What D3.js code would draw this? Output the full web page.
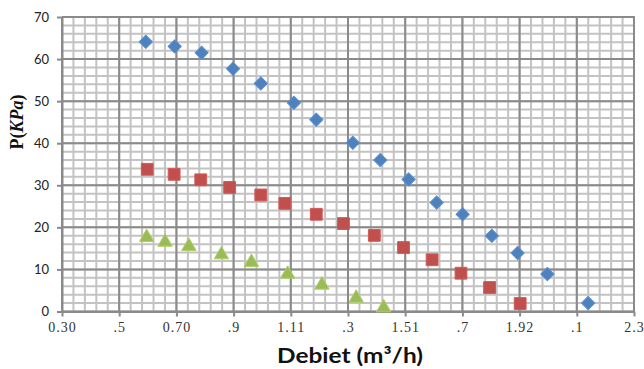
<!DOCTYPE html>
<html>
<head>
<meta charset="utf-8">
<script src="https://cdn.jsdelivr.net/npm/d3@7"></script>
<style>
  html, body { margin: 0; padding: 0; background: #fff; }
  svg { display: block; }
</style>
</head>
<body>
<svg id="chart" width="644" height="369"></svg>
<script>
// Pressure vs. flow rate, three measured series
const seriesNames = ["Serie 1", "Serie 2", "Serie 3"];

const blueFlow  = [0.596, 0.698, 0.793, 0.904, 1.002, 1.119, 1.198, 1.327, 1.424, 1.524, 1.623, 1.715, 1.818, 1.909, 2.014, 2.158];
const bluePress = [64.1, 63.0, 61.5, 57.7, 54.2, 49.6, 45.6, 40.1, 36.0, 31.4, 25.9, 23.1, 18.0, 13.9, 8.9, 2.0];

const redFlow  = [0.601, 0.696, 0.790, 0.892, 1.002, 1.087, 1.198, 1.294, 1.403, 1.506, 1.607, 1.709, 1.810, 1.918];
const redPress = [33.8, 32.6, 31.3, 29.5, 27.7, 25.7, 23.1, 20.9, 18.1, 15.2, 12.3, 9.1, 5.7, 1.9];

const greenFlow  = [0.599, 0.664, 0.748, 0.863, 0.969, 1.097, 1.218, 1.339, 1.436];
const greenPress = [18.1, 17.0, 16.0, 14.0, 12.2, 9.4, 6.8, 3.7, 1.4];

// Axis definition
const xMin = 0.30, xMax = 2.32, xStep = 0.202;
const xTickLabels = ["0.30", ".5", "0.70", ".9", "1.11", ".3", "1.51", ".7", "1.92", ".1", "2.3"];
const yTicks = [0, 10, 20, 30, 40, 50, 60, 70];

const xTitle = "Debiet (m³/h)";

const colors = ["#4F81BD", "#C0504D", "#9BBB59"];

const svg = d3.select("#chart");
const plot = { left: 62, right: 634, top: 17, bottom: 311.5 };

const x = d3.scaleLinear().domain([xMin, xMax]).range([plot.left, plot.right]);
const y = d3.scaleLinear().domain([0, 70]).range([plot.bottom, plot.top]);

const xMajor = d3.range(xTickLabels.length).map(i => xMin + i * xStep);
const xMinor = d3.range(0, (xTickLabels.length - 1) * 5 + 1).map(i => xMin + i * xStep / 5);
const yMinor = d3.range(0, 36).map(i => i * 2);

const grid = svg.append("g");

// minor grid
grid.selectAll("line.vmin").data(xMinor).join("line")
  .attr("x1", d => x(d)).attr("x2", d => x(d))
  .attr("y1", plot.top).attr("y2", plot.bottom)
  .attr("stroke", "#C3C3C3").attr("stroke-width", 2);
grid.selectAll("line.hmin").data(yMinor).join("line")
  .attr("x1", plot.left).attr("x2", plot.right)
  .attr("y1", d => y(d)).attr("y2", d => y(d))
  .attr("stroke", "#C3C3C3").attr("stroke-width", 2);

// major grid
grid.selectAll("line.vmaj").data(xMajor).join("line")
  .attr("x1", d => x(d)).attr("x2", d => x(d))
  .attr("y1", plot.top).attr("y2", plot.bottom)
  .attr("stroke", "#8A8A8A").attr("stroke-width", 2);
grid.selectAll("line.hmaj").data(yTicks).join("line")
  .attr("x1", plot.left).attr("x2", plot.right)
  .attr("y1", d => y(d)).attr("y2", d => y(d))
  .attr("stroke", "#8A8A8A").attr("stroke-width", 2);

// axes
const yAxis = d3.axisLeft(y).tickValues(yTicks).tickSize(5).tickPadding(8).tickSizeOuter(0);
const gy = svg.append("g").attr("transform", `translate(${plot.left},0)`).call(yAxis);
gy.select(".domain").attr("stroke", "#8A8A8A").attr("stroke-width", 2);
gy.selectAll(".tick line").attr("stroke", "#8A8A8A").attr("stroke-width", 2);
gy.selectAll(".tick text")
  .attr("font-family", "Lato, 'Open Sans', sans-serif").attr("font-size", 13)
  .attr("fill", "#222");

const xAxis = d3.axisBottom(x).tickValues(xMajor)
  .tickFormat((d, i) => xTickLabels[i]).tickSize(5).tickPadding(6).tickSizeOuter(0);
const gx = svg.append("g").attr("transform", `translate(0,${plot.bottom})`).call(xAxis);
gx.select(".domain").attr("stroke", "#8A8A8A").attr("stroke-width", 2);
gx.selectAll(".tick line").attr("stroke", "#8A8A8A").attr("stroke-width", 2);
gx.selectAll(".tick text")
  .attr("font-family", "'Liberation Serif', 'DejaVu Serif', serif").attr("font-size", 14)
  .attr("letter-spacing", 1).attr("fill", "#333");

// plot frame (top and right edges)
svg.append("path")
  .attr("d", `M${plot.left},${plot.top}H${plot.right}V${plot.bottom}`)
  .attr("fill", "none").attr("stroke", "#8A8A8A").attr("stroke-width", 2);

// markers
const diamond = d3.symbol().type(d3.symbolSquare).size(88);
const square = d3.symbol().type(d3.symbolSquare).size(140);
const triSize = 90;
const triangle = d3.symbol().type(d3.symbolTriangle).size(triSize);
// d3 triangles are centred on the centroid; shift so the bounding box is centred
const triHeight = Math.sqrt(triSize * 4 / Math.sqrt(3)) * Math.sqrt(3) / 2;
const triShift = triHeight / 6;

function drawSeries(xs, ys, path, color, rotate, dy) {
  const pts = xs.map((v, i) => [v, ys[i]]);
  svg.append("g").selectAll("path").data(pts).join("path")
    .attr("d", path)
    .attr("transform", d => `translate(${x(d[0])},${y(d[1]) + dy})` + (rotate ? " rotate(45)" : ""))
    .attr("fill", color)
    .attr("stroke", d3.color(color).brighter(0.3))
    .attr("stroke-width", 1)
    .attr("stroke-linejoin", "round");
}
drawSeries(blueFlow, bluePress, diamond, colors[0], true, 0);
drawSeries(redFlow, redPress, square, colors[1], false, 0);
drawSeries(greenFlow, greenPress, triangle, colors[2], false, triShift);

// axis titles
svg.append("text")
  .attr("x", 350).attr("y", 363)
  .attr("text-anchor", "middle")
  .attr("font-family", "Lato, 'Open Sans', sans-serif").attr("font-weight", 700)
  .attr("font-size", 21).attr("fill", "#111")
  .attr("textLength", 146).attr("lengthAdjust", "spacingAndGlyphs")
  .text(xTitle);

const yt = svg.append("text")
  .attr("transform", "translate(23,122) rotate(-90)")
  .attr("text-anchor", "middle")
  .attr("font-family", "'Liberation Serif', 'DejaVu Serif', serif").attr("font-weight", 700)
  .attr("font-size", 18).attr("fill", "#111");
yt.append("tspan").text("P(");
yt.append("tspan").attr("font-style", "italic").text("KPa");
yt.append("tspan").text(")");
</script>
</body>
</html>
